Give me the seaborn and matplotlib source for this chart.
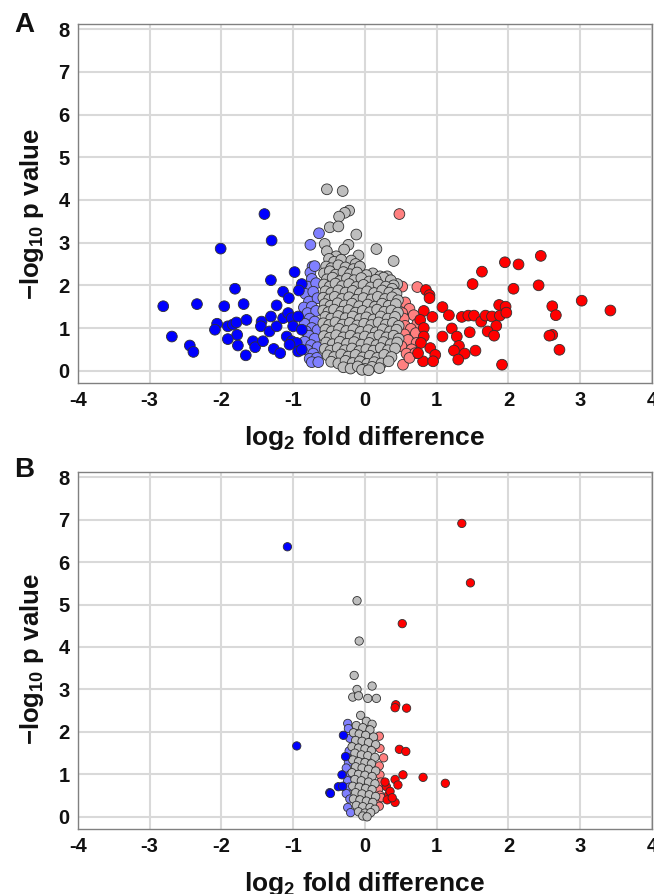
import matplotlib
matplotlib.use("Agg")
import matplotlib.pyplot as plt
import pandas as pd
import seaborn as sns

# Panel A points (log2 fold difference, -log10 p)
a_gray = [(-0.53, 4.25), (-0.31, 4.21), (-0.22, 3.75), (-0.28, 3.70), (-0.36, 3.61), (-0.49, 3.36),
          (-0.37, 3.38), (-0.12, 3.19), (0.16, 2.85), (0.40, 2.57), (-0.56, 2.97), (-0.23, 2.95),
          (-0.29, 2.84), (-0.09, 2.70), (-0.53, 2.80), (-0.40, 2.68), (0.11, 2.28), (0.31, 2.21),
          (0.21, 2.21), (0.45, 2.03), (-0.21, 2.49),
          (-0.50, 2.62), (-0.43, 2.55), (-0.33, 2.60), (-0.19, 2.58), (-0.13, 2.50),
          (-0.54, 2.44), (-0.47, 2.40), (-0.37, 2.47), (-0.27, 2.42), (-0.16, 2.38), (-0.07, 2.44),
          (-0.57, 2.28), (-0.49, 2.33), (-0.41, 2.25), (-0.30, 2.31), (-0.21, 2.26), (-0.11, 2.30),
          (0.02, 2.24), (0.26, 2.18), (0.36, 2.12),
          (-0.53, 2.14), (-0.45, 2.18), (-0.35, 2.10), (-0.25, 2.16), (-0.15, 2.12), (-0.05, 2.17),
          (0.06, 2.09), (0.15, 2.13), (0.40, 2.00),
          (-0.57, 2.02), (-0.49, 1.97), (-0.41, 2.04), (-0.32, 1.98), (-0.22, 2.03), (-0.12, 1.96),
          (-0.02, 2.01), (0.08, 1.95), (0.19, 2.02), (0.29, 1.97), (0.38, 1.92),
          (-0.55, 1.86), (-0.47, 1.82), (-0.37, 1.88), (-0.27, 1.83), (-0.17, 1.87), (-0.07, 1.81),
          (0.03, 1.86), (0.13, 1.82), (0.24, 1.88), (0.34, 1.83), (0.44, 1.80),
          (-0.58, 1.71), (-0.50, 1.67), (-0.42, 1.73), (-0.32, 1.68), (-0.22, 1.72), (-0.12, 1.66),
          (-0.02, 1.70), (0.09, 1.67), (0.18, 1.73), (0.28, 1.68), (0.38, 1.72), (0.46, 1.65),
          (-0.56, 1.56), (-0.48, 1.52), (-0.38, 1.58), (-0.28, 1.53), (-0.18, 1.57), (-0.08, 1.51),
          (0.04, 1.55), (0.14, 1.50), (0.24, 1.57), (0.33, 1.52), (0.43, 1.56),
          (-0.58, 1.41), (-0.51, 1.37), (-0.43, 1.43), (-0.33, 1.38), (-0.23, 1.42), (-0.13, 1.36),
          (-0.03, 1.40), (0.07, 1.37), (0.17, 1.43), (0.27, 1.38), (0.37, 1.41), (0.46, 1.36),
          (-0.55, 1.26), (-0.47, 1.22), (-0.37, 1.28), (-0.27, 1.23), (-0.17, 1.27), (-0.07, 1.21),
          (0.02, 1.25), (0.12, 1.20), (0.22, 1.27), (0.32, 1.22), (0.42, 1.26),
          (-0.58, 1.11), (-0.50, 1.07), (-0.41, 1.13), (-0.31, 1.08), (-0.21, 1.12), (-0.11, 1.06),
          (-0.01, 1.10), (0.09, 1.07), (0.19, 1.13), (0.29, 1.08), (0.39, 1.12), (0.47, 1.05),
          (-0.55, 0.96), (-0.46, 0.92), (-0.36, 0.98), (-0.26, 0.93), (-0.16, 0.97), (-0.06, 0.91),
          (0.05, 0.95), (0.15, 0.90), (0.25, 0.97), (0.35, 0.92), (0.44, 0.96),
          (-0.57, 0.81), (-0.49, 0.77), (-0.40, 0.83), (-0.30, 0.78), (-0.20, 0.82), (-0.10, 0.76),
          (0.00, 0.80), (0.10, 0.77), (0.20, 0.83), (0.30, 0.78), (0.40, 0.82), (0.47, 0.75),
          (-0.54, 0.66), (-0.45, 0.62), (-0.35, 0.68), (-0.25, 0.63), (-0.15, 0.67), (-0.05, 0.61),
          (0.06, 0.65), (0.16, 0.60), (0.26, 0.67), (0.36, 0.62), (0.45, 0.66),
          (-0.56, 0.51), (-0.48, 0.47), (-0.38, 0.53), (-0.28, 0.48), (-0.18, 0.52), (-0.08, 0.46),
          (0.02, 0.50), (0.12, 0.47), (0.22, 0.53), (0.32, 0.48), (0.42, 0.52),
          (-0.52, 0.36), (-0.43, 0.32), (-0.33, 0.38), (-0.23, 0.33), (-0.13, 0.37), (-0.03, 0.31),
          (0.07, 0.35), (0.17, 0.30), (0.27, 0.37), (0.37, 0.32),
          (-0.47, 0.21), (-0.37, 0.17), (-0.27, 0.23), (-0.17, 0.18), (-0.07, 0.22), (0.03, 0.16),
          (0.13, 0.20), (0.23, 0.17), (0.33, 0.22),
          (-0.30, 0.08), (-0.20, 0.05), (-0.10, 0.10), (0.00, 0.04), (0.10, 0.09), (0.20, 0.06),
          (-0.04, 0.02), (0.05, 0.01)]

a_lightblue = [(-0.64, 3.22), (-0.76, 2.95), (-0.73, 2.44), (-0.76, 2.30), (-0.70, 2.45), (-0.74, 2.15),
               (-0.80, 1.97), (-0.68, 2.05), (-0.83, 1.80), (-0.72, 1.85), (-0.78, 1.62), (-0.66, 1.70),
               (-0.85, 1.48), (-0.74, 1.50), (-0.80, 1.35), (-0.68, 1.40), (-0.77, 1.22), (-0.84, 1.10),
               (-0.70, 1.15), (-0.74, 1.00), (-0.82, 0.92), (-0.66, 0.95), (-0.78, 0.82), (-0.70, 0.75),
               (-0.84, 0.68), (-0.75, 0.60), (-0.66, 0.55), (-0.80, 0.48), (-0.72, 0.40), (-0.77, 0.28),
               (-0.67, 0.30), (-0.74, 0.20), (-0.65, 0.20)]

a_pink = [(0.48, 3.67), (0.52, 1.97), (0.73, 1.96), (0.56, 1.60), (0.62, 1.45), (0.52, 1.35),
          (0.68, 1.30), (0.54, 1.22), (0.73, 1.10), (0.56, 1.05), (0.64, 0.98), (0.71, 0.88),
          (0.55, 0.85), (0.60, 0.72), (0.72, 0.65), (0.51, 0.57), (0.65, 0.50), (0.58, 0.40),
          (0.70, 0.41), (0.53, 0.14), (0.62, 0.30)]

a_blue = [(-1.40, 3.67), (-1.30, 3.05), (-2.01, 2.86), (-0.98, 2.31), (-1.31, 2.12), (-1.81, 1.92),
          (-0.88, 2.03), (-1.14, 1.85), (-1.06, 1.70), (-0.92, 1.88), (-2.81, 1.51), (-2.34, 1.56),
          (-1.96, 1.51), (-1.69, 1.56), (-1.23, 1.53), (-2.69, 0.80), (-2.44, 0.59), (-2.39, 0.44),
          (-2.06, 1.10), (-2.09, 0.96), (-1.91, 1.04), (-1.84, 1.08), (-1.79, 1.13), (-1.78, 0.84),
          (-1.91, 0.74), (-1.77, 0.59), (-1.65, 1.19), (-1.66, 0.36), (-1.56, 0.69), (-1.53, 0.55),
          (-1.44, 1.15), (-1.45, 1.04), (-1.42, 0.69), (-1.31, 1.27), (-1.33, 0.92), (-1.27, 0.51),
          (-1.18, 0.41), (-1.23, 1.04), (-1.14, 1.23), (-1.09, 0.80), (-1.07, 1.35), (-1.02, 1.23),
          (-1.00, 1.04), (-1.02, 0.69), (-0.95, 0.65), (-0.93, 0.45), (-0.88, 0.49), (-0.93, 1.27),
          (-1.05, 0.61), (-0.88, 0.96)]

a_red = [(2.45, 2.69), (1.95, 2.54), (2.14, 2.49), (1.63, 2.32), (1.50, 2.03), (2.07, 1.92),
         (2.42, 2.00), (3.02, 1.64), (3.42, 1.41), (2.61, 1.51), (2.66, 1.30), (2.61, 0.84),
         (2.57, 0.82), (2.71, 0.49), (1.91, 0.14), (0.85, 1.89), (0.90, 1.77), (0.90, 1.70),
         (1.08, 1.49), (1.17, 1.30), (1.35, 1.26), (1.44, 1.29), (1.52, 1.29), (1.62, 1.15),
         (1.68, 1.29), (1.77, 1.27), (1.87, 1.54), (1.96, 1.50), (1.88, 1.29), (1.97, 1.36),
         (1.83, 1.05), (1.71, 0.92), (1.80, 0.82), (1.21, 0.99), (1.08, 0.80), (1.28, 0.80),
         (1.46, 0.90), (1.31, 0.58), (1.24, 0.47), (1.39, 0.40), (1.30, 0.26), (1.54, 0.47),
         (0.82, 1.40), (0.77, 1.19), (0.94, 1.26), (0.82, 1.00), (0.82, 0.80), (0.78, 0.65),
         (0.91, 0.53), (0.98, 0.37), (0.81, 0.22), (0.95, 0.22), (0.74, 0.41)]

# Panel B points
b_gray = [(-0.11, 5.09), (-0.08, 4.14), (-0.15, 3.33), (-0.11, 3.00), (0.10, 3.08), (-0.17, 2.82),
          (0.04, 2.79), (0.16, 2.79), (-0.09, 2.85),
          (-0.06, 2.39), (0.02, 2.25), (0.10, 2.18), (-0.12, 2.15), (-0.03, 2.10), (0.07, 2.05),
          (-0.16, 1.98), (-0.08, 1.95), (0.01, 1.92), (0.12, 1.88), (-0.13, 1.80), (-0.04, 1.78),
          (0.05, 1.75), (0.15, 1.70), (-0.18, 1.65), (-0.09, 1.62), (0.00, 1.60), (0.09, 1.56),
          (-0.14, 1.50), (-0.05, 1.46), (0.04, 1.44), (0.14, 1.40), (-0.17, 1.34), (-0.09, 1.30),
          (0.00, 1.28), (0.09, 1.25), (-0.13, 1.18), (-0.04, 1.15), (0.05, 1.12), (0.15, 1.08),
          (-0.18, 1.04), (-0.09, 1.00), (0.00, 0.98), (0.10, 0.95), (-0.14, 0.88), (-0.05, 0.85),
          (0.05, 0.82), (0.14, 0.78), (-0.17, 0.72), (-0.08, 0.70), (0.01, 0.67), (0.10, 0.64),
          (-0.13, 0.57), (-0.04, 0.54), (0.06, 0.52), (0.15, 0.48), (-0.16, 0.42), (-0.07, 0.40),
          (0.02, 0.37), (0.11, 0.34), (-0.12, 0.27), (-0.03, 0.24), (0.07, 0.22), (0.14, 0.18),
          (-0.09, 0.12), (0.00, 0.09), (0.08, 0.10), (-0.03, 0.02), (0.03, 0.00)]

b_lightblue = [(-0.24, 2.20), (-0.23, 2.08), (-0.21, 1.85), (-0.22, 1.55), (-0.25, 1.40), (-0.23, 1.28),
               (-0.26, 1.15), (-0.20, 1.00), (-0.24, 0.85), (-0.22, 0.70), (-0.26, 0.55), (-0.21, 0.42),
               (-0.24, 0.22), (-0.20, 0.10)]

b_pink = [(0.20, 1.90), (0.21, 1.61), (0.26, 1.39), (0.20, 1.20), (0.21, 0.99), (0.22, 0.82),
          (0.19, 0.65), (0.21, 0.51), (0.18, 0.38), (0.23, 0.45), (0.20, 0.25)]

b_blue = [(-1.08, 6.36), (-0.95, 1.67), (-0.30, 1.92), (-0.27, 1.42), (-0.32, 0.99), (-0.37, 0.71),
          (-0.31, 0.72), (-0.49, 0.57), (-0.48, 0.55)]

b_red = [(1.35, 6.91), (1.47, 5.51), (0.52, 4.55), (0.43, 2.64), (0.42, 2.57), (0.58, 2.56),
         (0.48, 1.59), (0.57, 1.54), (0.53, 0.99), (0.81, 0.93), (1.12, 0.79), (0.42, 0.88),
         (0.46, 0.75), (0.30, 0.71), (0.33, 0.52), (0.31, 0.40), (0.42, 0.34), (0.35, 0.60),
         (0.28, 0.82), (0.38, 0.45)]

groups = ["down_weak", "up_weak", "ns", "down", "up"]
palette = {"down_weak": "#8080ff", "up_weak": "#ff8080", "ns": "#bebebe",
           "down": "#0000ff", "up": "#ff0000"}
x_ticks = [-4, -3, -2, -1, 0, 1, 2, 3, 4]
y_ticks = [0, 1, 2, 3, 4, 5, 6, 7, 8]


def make_df(sets):
    rows = []
    for name, pts in zip(groups, sets):
        for x, y in pts:
            rows.append({"fc": x, "p": y, "group": name})
    return pd.DataFrame(rows)


df_a = make_df([a_lightblue, a_pink, a_gray, a_blue, a_red])
df_b = make_df([b_lightblue, b_pink, b_gray, b_blue, b_red])

sns.set_style("whitegrid")
plt.rcParams["font.family"] = ["Liberation Sans", "DejaVu Sans"]
plt.rcParams["font.weight"] = "bold"
plt.rcParams["axes.unicode_minus"] = False
plt.rcParams["mathtext.fontset"] = "custom"
plt.rcParams["mathtext.rm"] = "Liberation Sans:bold"
plt.rcParams["mathtext.default"] = "rm"

fig = plt.figure(figsize=(6.54, 8.94), dpi=100)
ax_a = fig.add_axes([0.119, 0.572, 0.878, 0.401])
ax_b = fig.add_axes([0.119, 0.073, 0.878, 0.399])

for ax, data, size, ly in [(ax_a, df_a, 60, 0.47), (ax_b, df_b, 36, 0.476)]:
    sns.scatterplot(data=data, x="fc", y="p", hue="group", hue_order=groups, palette=palette,
                    s=size, edgecolor="#303030", linewidth=0.6, legend=False, ax=ax, zorder=3)
    ax.set_xlim(-4, 4)
    ax.set_ylim(-0.28, 8.12)
    ax.set_xticks(x_ticks)
    ax.set_yticks(y_ticks)
    ax.grid(True, color="#d9d9d9", linewidth=1.5)
    for sp in ax.spines.values():
        sp.set_color("#808080")
        sp.set_linewidth(1.0)
    ax.tick_params(axis="both", which="both", length=3, color="#808080", labelsize=14.5,
                   labelcolor="#111111", pad=3)
    for lab in ax.get_xticklabels() + ax.get_yticklabels():
        lab.set_fontweight("bold")
    ax.set_xlabel("log$_2$ fold difference", fontsize=19, fontweight="bold", labelpad=10,
                  color="#111111")
    ax.set_ylabel("\u2212log$_{10}$ p value", fontsize=18.5, fontweight="bold",
                  color="#111111")
    ax.yaxis.set_label_coords(-0.056, ly)

fig.text(0.037, 0.972, "A", fontsize=20, fontweight="bold", ha="center", va="center", color="#111111")
fig.text(0.037, 0.474, "B", fontsize=20, fontweight="bold", ha="center", va="center", color="#111111")

fig.savefig("out.png", dpi=100)
